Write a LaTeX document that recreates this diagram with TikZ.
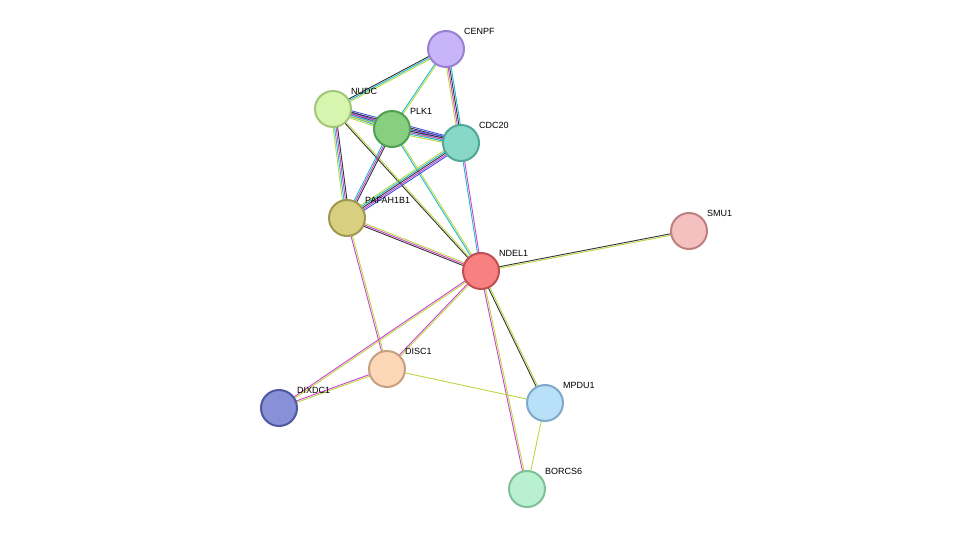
\documentclass[tikz,border=0pt]{standalone}
\usepackage{fontspec}
\setmainfont{Liberation Sans}
\usetikzlibrary{calc}
\definecolor{qk}{HTML}{333333}
\definecolor{qc}{HTML}{20B8D0}
\definecolor{qy}{HTML}{B8D840}
\definecolor{qm}{HTML}{D040D0}
\definecolor{qb}{HTML}{4050E0}
\tikzset{prot/.style={circle,minimum size=36pt,inner sep=0pt,line width=2pt},
lab/.style={font=\fontsize{9}{10}\selectfont,anchor=south west,inner sep=0pt}}
\newcommand\edg[4]{%
 \foreach \c [count=\i] in {#4}{%
  \pgfmathsetmacro\off{(\i-(#3+1)/2)*1.5}%
  \draw[color=\c,line width=0.9pt] ($(#1)!\off pt!90:(#2)$) -- ($(#2)!\off pt!-90:(#1)$);}}
\begin{document}
\begin{tikzpicture}[x=1pt,y=-1pt]
\useasboundingbox (0,0) rectangle (975,535);
\coordinate (CENPF) at (446,49);
\coordinate (NUDC) at (333,109);
\coordinate (PLK1) at (392,129);
\coordinate (CDC20) at (461,143);
\coordinate (PAFAH1B1) at (347,218);
\coordinate (NDEL1) at (481,271);
\coordinate (SMU1) at (689,231);
\coordinate (DISC1) at (387,369);
\coordinate (DIXDC1) at (279,408);
\coordinate (MPDU1) at (545,403);
\coordinate (BORCS6) at (527,489);
\edg{CENPF}{NUDC}{3}{qk,qc,qy}
\edg{CENPF}{PLK1}{2}{qc,qy}
\edg{CENPF}{CDC20}{4}{qy,qm,qk,qc}
\edg{NUDC}{PLK1}{5}{qy,qc,qm,qk,qb}
\edg{NUDC}{CDC20}{5}{qy,qc,qm,qk,qb}
\edg{NUDC}{PAFAH1B1}{4}{qy,qc,qm,qk}
\edg{NUDC}{NDEL1}{2}{qk,qy}
\edg{PLK1}{CDC20}{5}{qy,qc,qm,qk,qb}
\edg{PLK1}{PAFAH1B1}{3}{qc,qm,qk}
\edg{PLK1}{NDEL1}{2}{qc,qy}
\edg{CDC20}{PAFAH1B1}{5}{qy,qc,qk,qm,qb}
\edg{CDC20}{NDEL1}{2}{qc,qm}
\edg{PAFAH1B1}{NDEL1}{3}{qk,qm,qy}
\edg{PAFAH1B1}{DISC1}{2}{qm,qy}
\edg{NDEL1}{SMU1}{2}{qy,qk}
\edg{NDEL1}{DISC1}{2}{qm,qy}
\edg{NDEL1}{DIXDC1}{2}{qm,qy}
\edg{NDEL1}{MPDU1}{2}{qk,qy}
\edg{NDEL1}{BORCS6}{2}{qm,qy}
\edg{DISC1}{DIXDC1}{2}{qm,qy}
\edg{DISC1}{MPDU1}{1}{qy}
\edg{MPDU1}{BORCS6}{1}{qy}
\foreach \n/\f/\d in {CENPF/C8B4F8/9A80D0,NUDC/D8F5B0/A0C878,PLK1/88D080/50A050,CDC20/88D8C8/50A898,PAFAH1B1/D8D080/A09850,NDEL1/F88080/C05050,SMU1/F4C0C0/C08080,DISC1/FCD8B8/C8A080,DIXDC1/8890D8/5058A0,MPDU1/B8E0F8/80A8C8,BORCS6/B8F0D0/80C098}{
 \definecolor{nf}{HTML}{\f}\definecolor{nd}{HTML}{\d}
 \node[prot,fill=nf,draw=nd] (\n n) at (\n) {};
 \node[lab] (\n l) at ($(\n)+(18,-14)$) {\n};}
\end{tikzpicture}
\end{document}
